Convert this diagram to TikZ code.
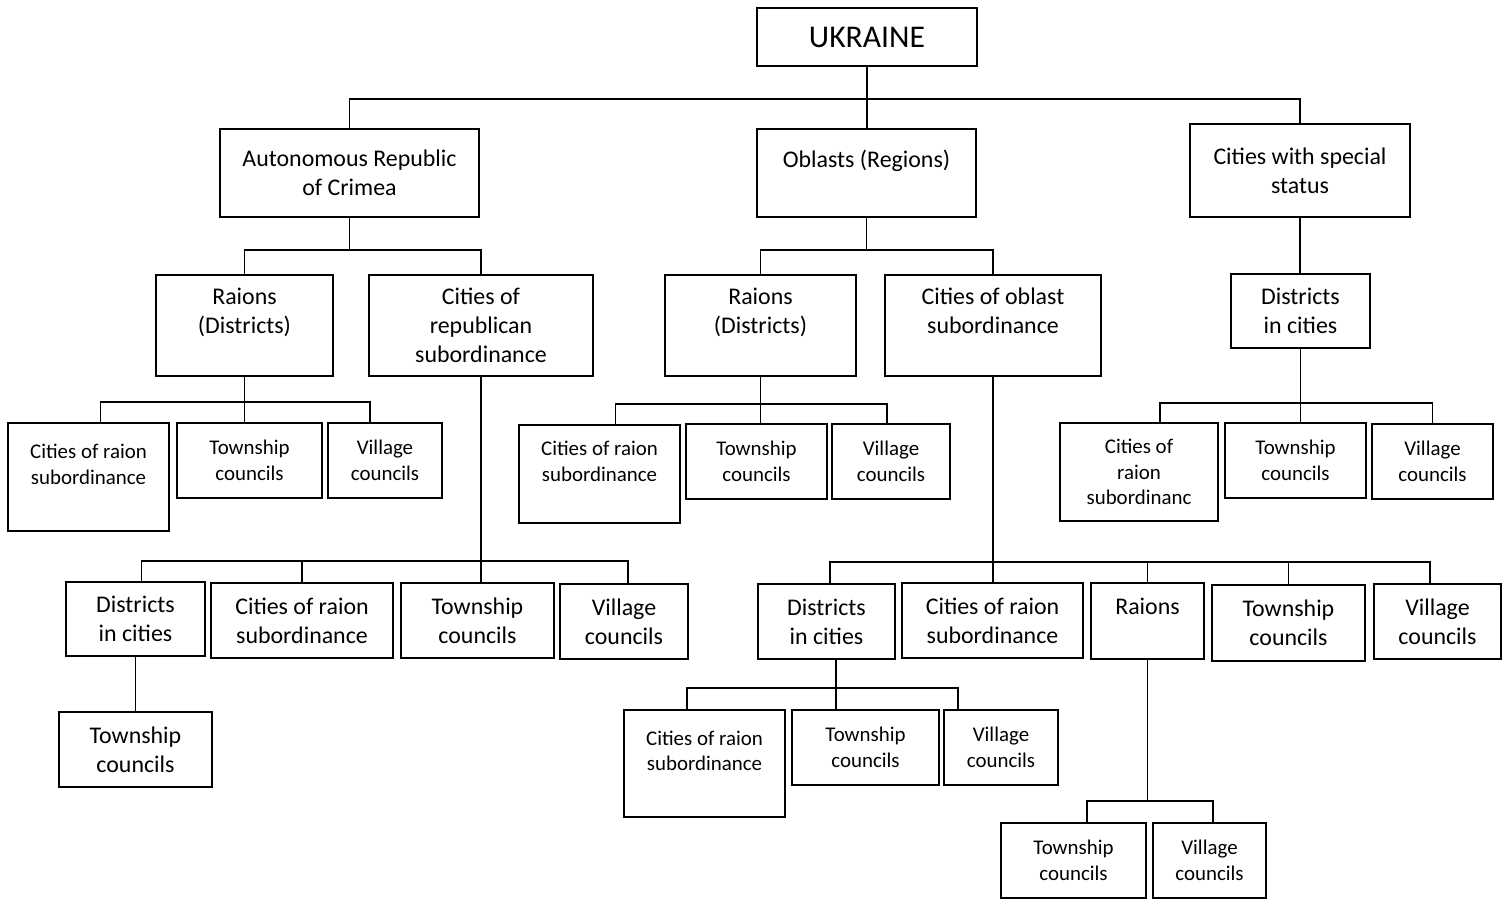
\documentclass[tikz,border=0pt]{standalone}
\usepackage{fontspec}
\setmainfont{Carlito}
\usetikzlibrary{calc}

\tikzset{
  box/.style={draw, line width=1.1pt, align=center, inner sep=1pt},
  boxsize/.style 2 args={minimum width=#1*0.02cm, minimum height=#2*0.02cm},
  big/.style={font=\fontsize{13.6}{16.4}\selectfont},
  small/.style={font=\fontsize{11.9}{14.5}\selectfont},
  link/.style={line width=1.1pt},
}

\begin{document}
\begin{tikzpicture}[x=0.02cm,y=-0.02cm]
\useasboundingbox (0,0) rectangle (1512,900);
% top
\node[box,boxsize={220}{58},font=\fontsize{18}{21.6}\selectfont] (ukr) at (867,37) {UKRAINE};
% level 1
\node[box,big,boxsize={259}{88}] (crimea) at (349.5,173) {Autonomous Republic\\of Crimea};
\node[box,big,boxsize={219}{88}] (oblasts) at (866.5,173) {Oblasts (Regions)\\\mbox{}};
\node[box,big,boxsize={220}{93}] (special) at (1300,170.5) {Cities with special\\status};
% level 2
\node[box,big,boxsize={177}{101}] (raionsA) at (244.5,325.5) {Raions\\(Districts)\\\mbox{}};
\node[box,big,boxsize={224}{101}] (citrep) at (481,325.5) {Cities of\\republican\\subordinance};
\node[box,big,boxsize={191}{101}] (raionsB) at (760.5,325.5) {Raions\\(Districts)\\\mbox{}};
\node[box,big,boxsize={216}{101}] (citobl) at (993,325.5) {Cities of oblast\\subordinance\\\mbox{}};
\node[box,big,boxsize={139}{74}] (distS) at (1300.5,311) {Districts\\in cities};
% level 3, under raions
\node[box,small,boxsize={161}{108}] (raA1) at (88.5,477) {Cities of raion\\subordinance\\\mbox{}};
\node[box,small,boxsize={145}{75}] (raA2) at (249.5,460.5) {Township\\councils};
\node[box,small,boxsize={114}{75}] (raA3) at (385,460.5) {Village\\councils};
\node[box,small,boxsize={161}{98}] (raB1) at (599.5,474) {Cities of raion\\subordinance\\\mbox{}};
\node[box,small,boxsize={141}{75}] (raB2) at (756.5,461.5) {Township\\councils};
\node[box,small,boxsize={118}{75}] (raB3) at (891,461.5) {Village\\councils};
\node[box,small,boxsize={158}{98}] (dsS1) at (1139,472) {Cities of\\raion\\subordinanc};
\node[box,small,boxsize={141}{75}] (dsS2) at (1295.5,460.5) {Township\\councils};
\node[box,small,boxsize={121}{75}] (dsS3) at (1432.5,461.5) {Village\\councils};
% level 3, under cities
\node[box,big,boxsize={139}{74}] (distA) at (135.5,619) {Districts\\in cities};
\node[box,big,boxsize={182}{75}] (crpCity) at (302,620.5) {Cities of raion\\subordinance};
\node[box,big,boxsize={153}{75}] (crpTown) at (477.5,620.5) {Township\\councils};
\node[box,big,boxsize={128}{75}] (crpVill) at (624,621.5) {Village\\councils};
\node[box,big,boxsize={137}{75}] (distB) at (826.5,621.5) {Districts\\in cities};
\node[box,big,boxsize={181}{75}] (cobCity) at (992.5,620.5) {Cities of raion\\subordinance};
\node[box,big,boxsize={113}{76}] (raionsC) at (1147.5,621) {Raions\\\mbox{}};
\node[box,big,boxsize={153}{76}] (cobTown) at (1288.5,623) {Township\\councils};
\node[box,big,boxsize={127}{75}] (cobVill) at (1437.5,621.5) {Village\\councils};
% level 4
\node[box,big,boxsize={153}{75}] (dsA1) at (135.5,749.5) {Township\\councils};
\node[box,small,boxsize={161}{107}] (dsB1) at (704.5,763.5) {Cities of raion\\subordinance\\\mbox{}};
\node[box,small,boxsize={147}{75}] (dsB2) at (865.5,747.5) {Township\\councils};
\node[box,small,boxsize={114}{75}] (dsB3) at (1001,747.5) {Village\\councils};
\node[box,small,boxsize={145}{75}] (raC1) at (1073.5,860.5) {Township\\councils};
\node[box,small,boxsize={113}{75}] (raC2) at (1209.5,860.5) {Village\\councils};

% links
\draw[link] (ukr.south) -- (ukr.south |- oblasts.north);
\path (ukr.south) ++(0,32) coordinate (bus0);
\draw[link] (crimea.north) |- (bus0) -| (special.north);

\draw[link] (crimea.south) -- ++(0,32) coordinate (bus1);
\draw[link] (raionsA.north) |- (bus1) -| (citrep.north);

\draw[link] (oblasts.south) -- ++(0,32) coordinate (bus2);
\draw[link] (raionsB.north) |- (bus2) -| (citobl.north);

\draw[link] (special.south) -- (special.south |- distS.north);

\draw[link] (raionsA.south) -- (raionsA.south |- raA2.north);
\path (raionsA.south) ++(0,25) coordinate (bus4);
\draw[link] ($(raA1.north)+(12,0)$) |- (bus4) -| ($(raA3.north)+(-15,0)$);

\draw[link] (citrep.south) -- (citrep.south |- crpTown.north);
\path (citrep.south) ++(0,184) coordinate (bus5);
\draw[link] ($(distA.north)+(6,0)$) |- (bus5) -| ($(crpVill.north)+(4,0)$);
\draw[link] (bus5) -| (crpCity.north);

\draw[link] (distA.south) -- (distA.south |- dsA1.north);

\draw[link] (raionsB.south) -- (raionsB.south |- raB2.north);
\path (raionsB.south) ++(0,27) coordinate (bus7);
\draw[link] ($(raB1.north)+(16,0)$) |- (bus7) -| ($(raB3.north)+(-4,0)$);

\draw[link] (citobl.south) -- (citobl.south |- cobCity.north);
\path (citobl.south) ++(0,185) coordinate (bus8);
\draw[link] ($(distB.north)+(3.5,0)$) |- (bus8) -| ($(cobVill.north)+(-7.5,0)$);
\draw[link] (bus8) -| (raionsC.north);
\draw[link] (bus8) -| (cobTown.north);

\draw[link] (distS.south) -- (distS.south |- dsS2.north);
\path (distS.south) ++(0,54) coordinate (bus9);
\draw[link] ($(dsS1.north)+(21,0)$) |- (bus9) -| (dsS3.north);

\coordinate (distBs) at ($(distB.south)+(9.5,0)$);
\draw[link] (distBs) -- (distBs |- dsB2.north);
\path (distBs) ++(0,28) coordinate (bus10);
\draw[link] ($(dsB1.north)+(-17.5,0)$) |- (bus10) -| ($(dsB3.north)+(-43,0)$);

\draw[link] (raionsC.south) -- ++(0,141) coordinate (bus11);
\draw[link] ($(raC1.north)+(13.5,0)$) |- (bus11) -| ($(raC2.north)+(3.5,0)$);
\end{tikzpicture}
\end{document}
